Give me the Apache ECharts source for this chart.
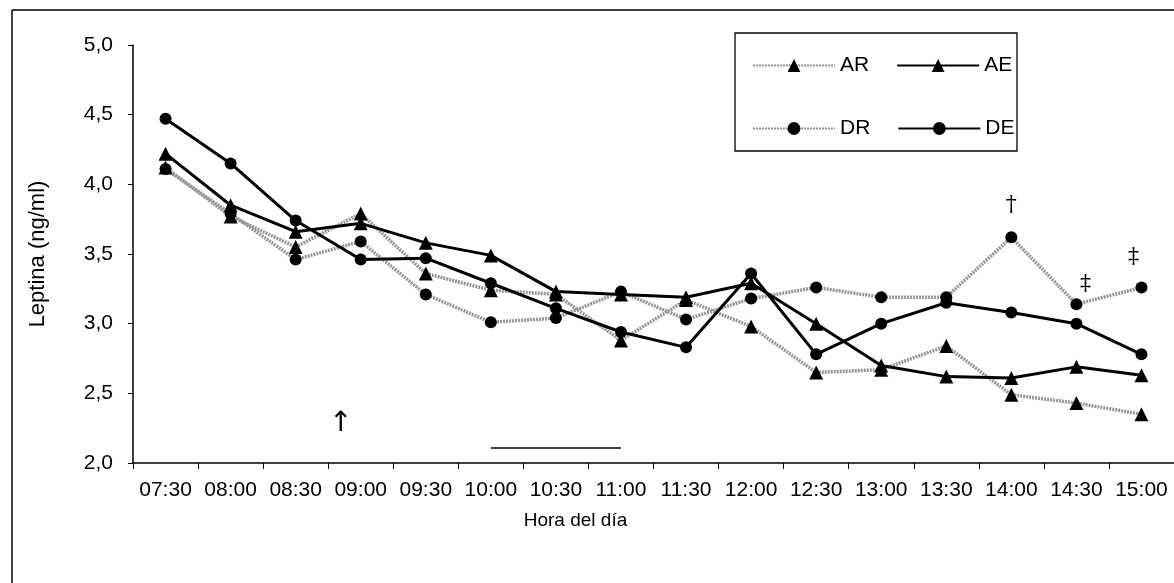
<!DOCTYPE html>
<html>
<head>
<meta charset="utf-8">
<script src="https://cdn.jsdelivr.net/npm/echarts@6/dist/echarts.min.js"></script>
<style>
html,body{margin:0;padding:0;background:#fff;}
#c{width:1174px;height:583px;}
</style>
</head>
<body>
<div id="c"></div>
<script>
const categories = ['07:30','08:00','08:30','09:00','09:30','10:00','10:30','11:00','11:30','12:00','12:30','13:00','13:30','14:00','14:30','15:00'];
const yTicks = [2.0, 2.5, 3.0, 3.5, 4.0, 4.5, 5.0];
const AR = [4.12, 3.77, 3.55, 3.79, 3.36, 3.24, 3.21, 2.88, 3.17, 2.98, 2.65, 2.67, 2.84, 2.49, 2.43, 2.35];
const AE = [4.22, 3.85, 3.66, 3.72, 3.58, 3.49, 3.23, 3.21, 3.19, 3.29, 3.00, 2.70, 2.62, 2.61, 2.69, 2.63];
const DR = [4.11, 3.79, 3.46, 3.59, 3.21, 3.01, 3.04, 3.23, 3.03, 3.18, 3.26, 3.19, 3.19, 3.62, 3.14, 3.26];
const DE = [4.47, 4.15, 3.74, 3.46, 3.47, 3.29, 3.11, 2.94, 2.83, 3.36, 2.78, 3.00, 3.15, 3.08, 3.00, 2.78];

const FONT = 'Liberation Sans, Arial, sans-serif';
const grey = {color:'#969696', width:3.5, type:[2,1]};
const black = {color:'#000', width:3, type:'solid'};

const chart = echarts.init(document.getElementById('c'), null, {renderer:'canvas'});
chart.setOption({
  animation:false,
  backgroundColor:'#fff',
  grid:{left:133, top:45, right:0, bottom:120, containLabel:false},
  legend:[
    {data:['AR','AE'], left:747, top:50, itemWidth:82, itemHeight:16, itemGap:27,
     textStyle:{fontFamily:FONT, fontSize:21, color:'#000'}},
    {data:['DR','DE'], left:747, top:113, itemWidth:82, itemHeight:16, itemGap:27,
     textStyle:{fontFamily:FONT, fontSize:21, color:'#000'}}
  ],
  xAxis:{
    type:'category', data:categories, boundaryGap:true,
    name:'Hora del día', nameLocation:'middle', nameGap:48,
    nameTextStyle:{fontFamily:FONT, fontSize:19, color:'#000', padding:[0,156,0,0]},
    axisLine:{lineStyle:{color:'#000', width:1.5}},
    axisTick:{show:true, length:6, lineStyle:{color:'#000'}},
    axisLabel:{interval:0, fontFamily:FONT, fontSize:21, color:'#000', margin:17},
    splitLine:{show:false}
  },
  yAxis:{
    type:'value', min:yTicks[0], max:yTicks[yTicks.length-1], interval:0.5,
    name:'Leptina (ng/ml)', nameLocation:'middle', nameGap:84,
    nameTextStyle:{fontFamily:FONT, fontSize:22, color:'#000'},
    axisLine:{show:true, lineStyle:{color:'#000', width:1.5}},
    axisTick:{show:true, length:5, lineStyle:{color:'#000'}},
    axisLabel:{fontFamily:FONT, fontSize:21, color:'#000', margin:20,
      formatter:v=>v.toFixed(1).replace('.',',')},
    splitLine:{show:false}
  },
  graphic:[
    {type:'line', shape:{x1:12,y1:10,x2:1174,y2:10}, style:{stroke:'#000', lineWidth:1.5}},
    {type:'line', shape:{x1:12,y1:10,x2:12,y2:583}, style:{stroke:'#000', lineWidth:1.5}},
    {type:'rect', shape:{x:735,y:33,width:282,height:118}, style:{stroke:'#000', fill:'none', lineWidth:1.3}}
  ],
  series:[
    {name:'AR', type:'line', data:AR, symbol:'triangle', symbolSize:14, lineStyle:grey,
     itemStyle:{color:'#000'}, z:2},
    {name:'DR', type:'line', data:DR, symbol:'circle', symbolSize:12, lineStyle:grey,
     itemStyle:{color:'#000'}, z:2,
     markPoint:{symbol:'circle', symbolSize:1, itemStyle:{color:'rgba(0,0,0,0)'},
       label:{show:true, position:'inside', color:'#000', fontFamily:'DejaVu Serif, serif', fontSize:22},
       data:[
         {coord:['14:00',3.62], label:{formatter:'†', offset:[0,-32]}},
         {coord:['14:30',3.14], label:{formatter:'‡', offset:[9,-20]}},
         {coord:['15:00',3.26], label:{formatter:'‡', offset:[-8,-30]}}
       ]}},
    {name:'AE', type:'line', data:AE, symbol:'triangle', symbolSize:14, lineStyle:black,
     itemStyle:{color:'#000'}, z:3,
     markPoint:{symbol:'circle', symbolSize:1, itemStyle:{color:'rgba(0,0,0,0)'},
       label:{show:true, position:'inside', color:'#000', fontFamily:'DejaVu Sans, sans-serif', fontSize:28},
       data:[{coord:['09:00',2.28], label:{formatter:'↑', offset:[-20,0]}}]}},
    {name:'DE', type:'line', data:DE, symbol:'circle', symbolSize:12, lineStyle:black,
     itemStyle:{color:'#000'}, z:3,
     markLine:{symbol:'none', silent:true, label:{show:false},
       lineStyle:{color:'#000', width:1.5, type:'solid'},
       data:[[{coord:['10:00',2.108]},{coord:['11:00',2.108]}]]}}
  ]
});
</script>
</body>
</html>
